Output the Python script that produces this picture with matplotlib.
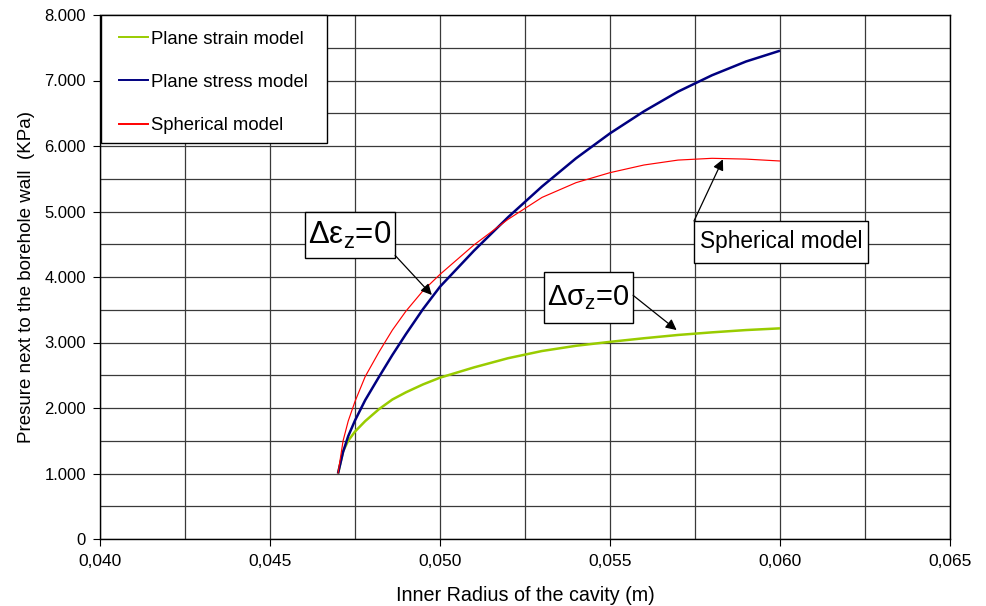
import matplotlib
matplotlib.use("Agg")
import matplotlib.pyplot as plt
from matplotlib.patches import Rectangle
from matplotlib.lines import Line2D
from matplotlib.transforms import Affine2D
from matplotlib.ticker import MultipleLocator, FuncFormatter

# Inner radius of the cavity (m)
radius = [0.04700, 0.04715, 0.04730, 0.04750, 0.04780, 0.04820, 0.04860,
          0.04900, 0.04950, 0.05000, 0.05100, 0.05200, 0.05300, 0.05400,
          0.05500, 0.05600, 0.05700, 0.05800, 0.05900, 0.06000]

# Pressure next to the borehole wall (KPa)
plane_strain = [1000, 1340, 1500, 1640, 1800, 1980, 2130, 2240, 2360, 2463,
                2620, 2760, 2870, 2950, 3010, 3065, 3115, 3155, 3190, 3216]
plane_stress = [1000, 1330, 1570, 1810, 2120, 2470, 2810, 3130, 3510, 3852,
                4402, 4912, 5382, 5812, 6193, 6530, 6830, 7080, 7290, 7455]
spherical = [1000, 1500, 1800, 2100, 2480, 2850, 3190, 3480, 3790, 4040,
             4490, 4880, 5215, 5440, 5593, 5710, 5785, 5812, 5800, 5771]

series_labels = ["Plane strain model", "Plane stress model", "Spherical model"]
series_colors = ["#99cc00", "#000080", "#ff0000"]
series_widths = [1.8, 1.8, 0.85]

plt.rcParams["font.family"] = ["Liberation Sans", "DejaVu Sans"]

W, H = 986, 606
fig = plt.figure(figsize=(W / 100, H / 100), dpi=100)
ax = fig.add_axes([100 / W, 1 - 539 / H, 850 / W, 524 / H])

ax.set_xlim(0.040, 0.065)
ax.set_ylim(0, 8000)

# grid: every 0.0025 m and every 500 KPa
ax.xaxis.set_major_locator(MultipleLocator(0.005))
ax.xaxis.set_minor_locator(MultipleLocator(0.0025))
ax.yaxis.set_major_locator(MultipleLocator(1000))
ax.yaxis.set_minor_locator(MultipleLocator(500))
ax.grid(True, which="both", color="#3a3a3a", linewidth=0.9)
ax.set_axisbelow(True)

ax.xaxis.set_major_formatter(FuncFormatter(lambda v, p: f"{v:.3f}".replace(".", ",")))
ax.yaxis.set_major_formatter(FuncFormatter(
    lambda v, p: "0" if v == 0 else f"{v/1000:.3f}"))

ax.tick_params(axis="both", which="minor", length=0)
ax.tick_params(axis="y", which="major", direction="out", length=5, width=0.8,
               labelsize=12, pad=5)
ax.tick_params(axis="x", which="major", direction="out", length=5, width=0.8,
               labelsize=12.5, pad=6)

for s in ax.spines.values():
    s.set_color("black")
    s.set_linewidth(1.0)

for ys, col, lw in zip([plane_strain, plane_stress, spherical],
                       series_colors, series_widths):
    ax.plot(radius, ys, color=col, linewidth=lw, solid_capstyle="butt",
            solid_joinstyle="round", zorder=3)

ax.set_xlabel("Inner Radius of the cavity (m)", fontsize=14.2, labelpad=12)
ax.set_ylabel("Presure next to the borehole wall  (KPa)", fontsize=13.5,
              labelpad=7)

# legend box, laid out in figure pixels
px = Affine2D().scale(1 / W, -1 / H).translate(0, 1) + fig.transFigure
fig.patches.append(Rectangle((101, 15), 226, 128, transform=px,
                             facecolor="white", edgecolor="black",
                             linewidth=1.0, zorder=4))
for i, (lab, col) in enumerate(zip(series_labels, series_colors)):
    yrow = 37 + i * 43.3
    fig.lines.append(Line2D([119, 148], [yrow, yrow], transform=px,
                            color=col, linewidth=1.4, zorder=5))
    fig.text(151, yrow, lab, transform=px, fontsize=13.3, ha="left",
             va="center_baseline", zorder=5)


def callout(x0, x1, y0, y1, text, size, arrow_from, arrow_to):
    box = Rectangle((x0, y0), x1 - x0, y1 - y0, facecolor="white",
                    edgecolor="black", linewidth=1.0, zorder=5)
    ax.add_patch(box)
    ax.text((x0 + x1) / 2, (y0 + y1) / 2, text, fontsize=size, ha="center",
            va="center", zorder=6)
    ax.annotate("", xy=arrow_to, xytext=arrow_from, zorder=6,
                arrowprops=dict(arrowstyle="-|>", color="black", lw=0.9,
                                mutation_scale=16, shrinkA=0, shrinkB=0))


callout(0.04603, 0.04868, 4290, 4992, "Δε$_\\mathregular{z}$=0", 22.5,
        (0.04868, 4330), (0.04976, 3725))
callout(0.05306, 0.05568, 3298, 4076, "Δσ$_\\mathregular{z}$=0", 21,
        (0.05568, 3720), (0.05696, 3190))
callout(0.05747, 0.06259, 4214, 4855, "Spherical model", 16.3,
        (0.05747, 4855), (0.05832, 5797))

fig.savefig("out.png", dpi=100)
